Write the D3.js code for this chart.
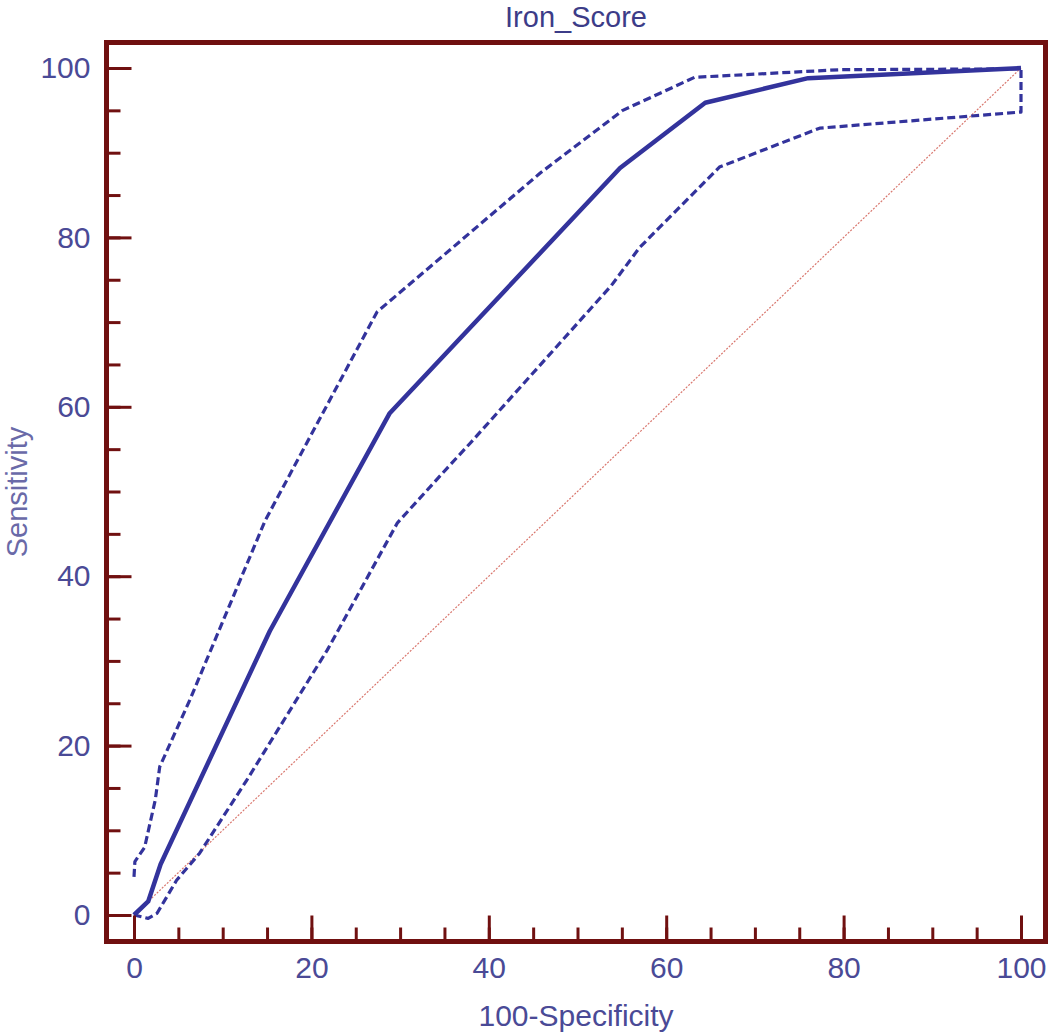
<!DOCTYPE html>
<html>
<head>
<meta charset="utf-8">
<script src="https://cdn.jsdelivr.net/npm/d3@7"></script>
<style>
  html, body { margin: 0; padding: 0; background: #fff; }
  svg { display: block; font-family: "Liberation Sans", Arial, sans-serif; }
</style>
</head>
<body>
<div id="chart"></div>
<script>
// ROC curve (100-Specificity vs Sensitivity)
var rocX = [0, 1.6, 3.0, 15.3, 28.8, 54.8, 64.4, 76.0, 100];
var rocY = [0, 1.6, 6.0, 33.5, 59.2, 88.2, 95.9, 98.8, 100];

// upper confidence bound
var upperX = [0, 0.1, 1.2, 2.4, 2.9, 6.3, 14.8, 27.4, 45.8, 55.1, 63.2, 79.6, 100];
var upperY = [4.5, 6.3, 8.0, 13.6, 17.5, 25.4, 46.6, 71.2, 87.6, 95.0, 98.9, 99.8, 99.9];

// lower confidence bound
var lowerX = [0, 1.6, 2.6, 4.8, 7.4, 12.7, 21.8, 29.7, 35.6, 37.9, 53.8, 57.0, 66.0, 77.3, 100];
var lowerY = [0, -0.4, 0.2, 4.1, 7.3, 15.9, 31.3, 46.3, 53.1, 55.7, 74.3, 78.8, 88.3, 92.9, 94.8];

var majorTicks = [0, 20, 40, 60, 80, 100];
var minorTicks = d3.range(0, 101, 5);

var width = 1050, height = 1035;
var frame = {left: 106.5, right: 1045.5, top: 42.5, bottom: 941.5};

var frameColor = "#701010",
    blue = "#33339c",
    textColor = "#4a4a96";

var svg = d3.select("#chart").append("svg")
    .attr("width", width)
    .attr("height", height);

var x = d3.scaleLinear().domain([0, 100]).range([134, 1021]);
var y = d3.scaleLinear().domain([0, 100]).range([915, 68]);

// diagonal reference line
svg.append("line")
    .attr("x1", x(0)).attr("y1", y(0))
    .attr("x2", x(100)).attr("y2", y(100))
    .attr("stroke", "#d9776e")
    .attr("stroke-width", 1.2)
    .attr("stroke-dasharray", "2,1.5");

var line = d3.line()
    .x(function(d) { return x(d[0]); })
    .y(function(d) { return y(d[1]); });

// confidence band: upper bound, down the right edge, lower bound back
var band = d3.zip(upperX, upperY).concat(d3.zip(lowerX, lowerY).reverse());
svg.append("path")
    .datum(band)
    .attr("d", line)
    .attr("fill", "none")
    .attr("stroke", blue)
    .attr("stroke-width", 3.2)
    .attr("stroke-dasharray", "8,4")
    .attr("stroke-linejoin", "round");

svg.append("path")
    .datum(d3.zip(rocX, rocY))
    .attr("d", line)
    .attr("fill", "none")
    .attr("stroke", blue)
    .attr("stroke-width", 4.5)
    .attr("stroke-linejoin", "round");

// axes (ticks point into the frame)
function styleAxis(g) {
    g.select(".domain").remove();
    g.selectAll(".tick line").attr("stroke", frameColor).attr("stroke-width", 3);
    g.selectAll("text")
        .attr("fill", textColor)
        .style("font-size", "30px")
        .style("font-family", "'Liberation Sans', Arial, sans-serif");
}

svg.append("g")
    .attr("transform", "translate(0," + (frame.bottom - 2) + ")")
    .call(d3.axisBottom(x).tickValues(minorTicks).tickSize(-12).tickFormat(""))
    .call(styleAxis);

svg.append("g")
    .attr("transform", "translate(0," + (frame.bottom - 2) + ")")
    .call(d3.axisBottom(x).tickValues(majorTicks).tickSize(-24).tickPadding(16))
    .call(styleAxis)
    .selectAll("text").attr("dy", "0.75em");

svg.append("g")
    .attr("transform", "translate(" + (frame.left + 2) + ",0)")
    .call(d3.axisLeft(y).tickValues(minorTicks).tickSize(-12).tickFormat(""))
    .call(styleAxis);

svg.append("g")
    .attr("transform", "translate(" + (frame.left + 2) + ",0)")
    .call(d3.axisLeft(y).tickValues(majorTicks).tickSize(-23).tickPadding(18))
    .call(styleAxis);

// frame
svg.append("rect")
    .attr("x", frame.left).attr("y", frame.top)
    .attr("width", frame.right - frame.left)
    .attr("height", frame.bottom - frame.top)
    .attr("fill", "none")
    .attr("stroke", frameColor)
    .attr("stroke-width", 5);

var cx = (frame.left + frame.right) / 2;

svg.append("text")
    .attr("x", cx).attr("y", 27)
    .attr("text-anchor", "middle")
    .attr("fill", "#3c3c88")
    .style("font-size", "29px")
    .text("Iron_Score");

svg.append("text")
    .attr("x", cx).attr("y", 1026)
    .attr("text-anchor", "middle")
    .attr("fill", textColor)
    .style("font-size", "30px")
    .text("100-Specificity");

svg.append("text")
    .attr("transform", "translate(27," + ((frame.top + frame.bottom) / 2) + ") rotate(-90)")
    .attr("text-anchor", "middle")
    .attr("fill", "#6a6aa8")
    .style("font-size", "29px")
    .text("Sensitivity");
</script>
</body>
</html>
